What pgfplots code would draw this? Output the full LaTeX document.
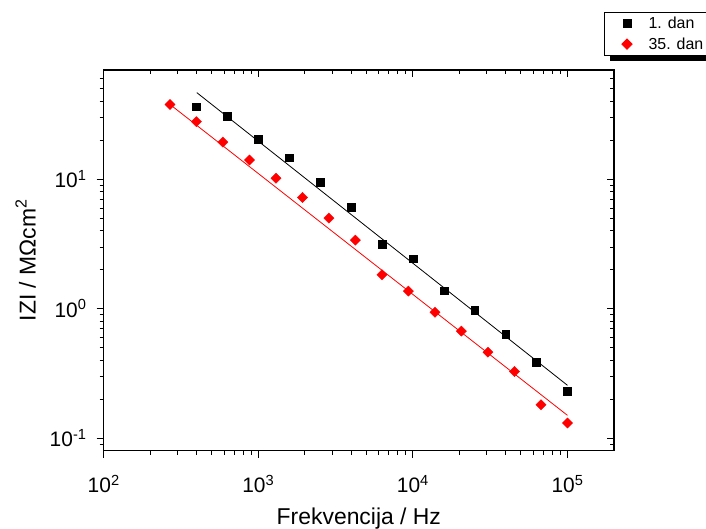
\documentclass[border=0pt]{standalone}
\usepackage{fontspec}
\setmainfont{Liberation Sans}
\usepackage{pgfplots}
\pgfplotsset{compat=1.18}
\usetikzlibrary{shadows}
\begin{document}
\begin{tikzpicture}[x=1bp,y=1bp]
\path[use as bounding box] (0,0) rectangle (706,529);
\begin{axis}[
    at={(103.7bp,78.3bp)}, anchor=south west,
    scale only axis, width=510.3bp, height=380.7bp,
    xmode=log, ymode=log,
    xmin=100, xmax=2e5, ymin=0.08, ymax=70,
    axis line style={line width=1.2bp},
    every tick/.style={line width=1bp, black},
    major tick length=7bp, minor tick length=4bp,
    xtick={100,1000,10000,100000},
    ytick={0.1,1,10},
    minor xtick={200,300,400,500,600,700,800,900,2000,3000,4000,5000,6000,7000,8000,9000,20000,30000,40000,50000,60000,70000,80000,90000},
    minor ytick={0.09,0.2,0.3,0.4,0.5,0.6,0.7,0.8,0.9,2,3,4,5,6,7,8,9,20,30,40,50,60},
    tick align=inside, xtick pos=top, ytick pos=right,
    xticklabels={}, yticklabels={}]
\end{axis}
\begin{axis}[
    at={(103.7bp,78.3bp)}, anchor=south west,
    scale only axis, width=510.3bp, height=380.7bp,
    xmode=log, ymode=log,
    xmin=100, xmax=2e5, ymin=0.08, ymax=70,
    axis line style={line width=1.2bp},
    every tick/.style={line width=1bp, black},
    major tick length=7bp, minor tick length=4bp,
    xtick={100,1000,10000,100000},
    ytick={0.1,1,10},
    minor xtick={200,300,400,500,600,700,800,900,2000,3000,4000,5000,6000,7000,8000,9000,20000,30000,40000,50000,60000,70000,80000,90000},
    minor ytick={0.09,0.2,0.3,0.4,0.5,0.6,0.7,0.8,0.9,2,3,4,5,6,7,8,9,20,30,40,50,60},
    tick align=outside, xtick pos=bottom, ytick pos=left,
    xticklabels={10\textsuperscript{2},10\textsuperscript{3},10\textsuperscript{4},10\textsuperscript{5}},
    yticklabels={10\textsuperscript{-1},10\textsuperscript{0},10\textsuperscript{1}},
    tick label style={font=\fontsize{21}{25}\selectfont, inner sep=0pt},
    xticklabel style={anchor=base, yshift=-35.3bp},
    yticklabel style={anchor=base east, xshift=-10bp, yshift=-8.6bp},
    xlabel={Frekvencija / Hz},
    ylabel={IZI / MΩcm\textsuperscript{2}},
    label style={font=\fontsize{23}{27}\selectfont},
    xlabel style={at={(axis description cs:0.5,-0.195)}, anchor=base},
    ylabel style={at={(axis description cs:-0.153,0.5)}, anchor=center},
    legend cell align=left,
    legend style={at={(axis description cs:0.9804,1.1531)}, anchor=north west,
      draw=black, line width=0.8bp, fill=white,
      inner xsep=17.5bp, inner ysep=2.5bp, row sep=4bp, column sep=14.5bp,
      font=\fontsize{16}{18}\selectfont,
      drop shadow={shadow xshift=6bp, shadow yshift=-6bp, fill=black, opacity=1}},
]
\addplot[black, line width=0.8bp, forget plot] coordinates {(400,46.8) (100000,0.256)};
\addplot[red, line width=0.8bp, forget plot] coordinates {(268.5,37.9) (100000,0.150)};
\addplot[only marks, mark=square*, mark size=3.9bp, black] coordinates {
(398.1,36.4) (631,30.8) (1000,20.3) (1585,14.7) (2512,9.55) (3981,6.07) (6310,3.16)
(10000,2.44) (15849,1.38) (25119,0.972) (39811,0.640) (63096,0.386) (100000,0.231)};
\addlegendentry{1. dan}
\addplot[only marks, mark=square*, mark options={rotate=45}, mark size=3.6bp, red] coordinates {
(268.5,37.9) (398,27.9) (590,19.4) (877,14.1) (1300,10.2) (1932,7.25) (2864,5.02)
(4246,3.39) (6310,1.83) (9354,1.37) (13900,0.938) (20600,0.672) (30600,0.462)
(45400,0.327) (67400,0.181) (100000,0.131)};
\addlegendentry{35. dan}
\end{axis}
\end{tikzpicture}
\end{document}
